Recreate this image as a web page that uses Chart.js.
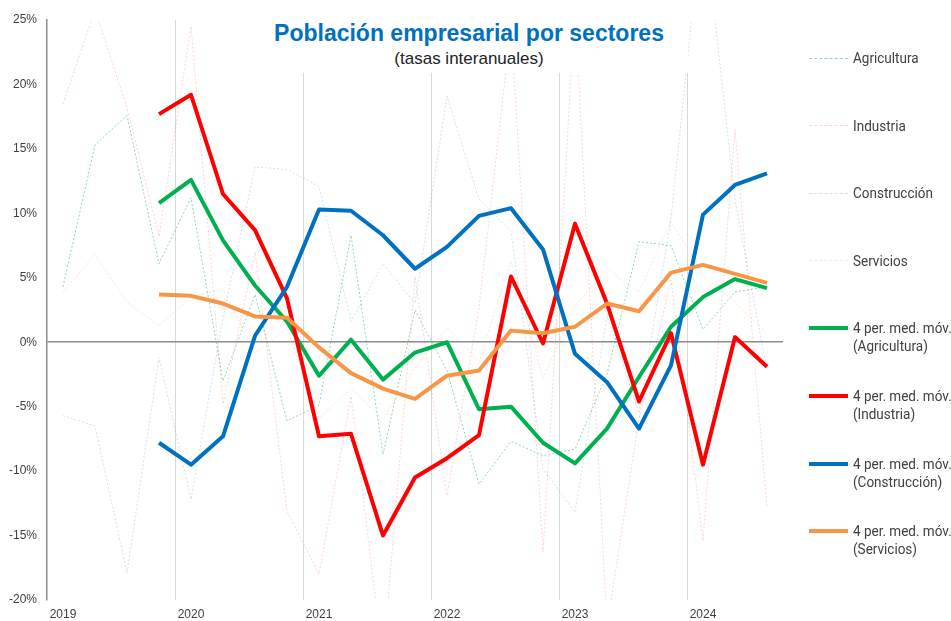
<!DOCTYPE html>
<html lang="es">
<head>
<meta charset="utf-8">
<title>Población empresarial por sectores</title>
<script src="https://cdn.jsdelivr.net/npm/chart.js@4.4.1/dist/chart.umd.min.js"></script>
<style>
  html, body { margin: 0; padding: 0; background: #fff; }
  #wrap { position: relative; width: 951px; height: 621px; overflow: hidden; }
  #titleBox {
    position: absolute; left: 250px; top: 18px; width: 438px; height: 55px;
    background: #fff; text-align: center; font-family: "Liberation Sans", Arial, sans-serif;
  }
  #titleBox .main { color: #0070c0; font-weight: bold; font-size: 23px; line-height: 28px; margin-top: 1px; }
  #titleBox .sub { color: #222; font-size: 17px; line-height: 20px; margin-top: 2px; }
  #legend { position: absolute; left: 0; top: 0; width: 951px; height: 621px; pointer-events: none;
    font-family: "Roboto", sans-serif; font-size: 15px; color: #404040; }
  .item { position: absolute; left: 809px; }
  .item .swatch { position: absolute; left: 0; width: 39px; }
  .item .txt { position: absolute; left: 44px; top: -9px; line-height: 18px; white-space: nowrap;
    transform: scaleX(0.9); transform-origin: left center; }
</style>
</head>
<body>
<div id="wrap">
  <canvas id="chart" width="951" height="621"></canvas>
  <div id="titleBox">
    <div class="main">Población empresarial por sectores</div>
    <div class="sub">(tasas interanuales)</div>
  </div>
  <div id="legend"></div>
</div>
<script>
// trimestres 2019 T1 - 2024 T3
const quarters = [
  '2019T1', '2019T2', '2019T3', '2019T4',
  '2020T1', '2020T2', '2020T3', '2020T4',
  '2021T1', '2021T2', '2021T3', '2021T4',
  '2022T1', '2022T2', '2022T3', '2022T4',
  '2023T1', '2023T2', '2023T3', '2023T4',
  '2024T1', '2024T2', '2024T3'
];

// tasas interanuales (%)
const agricultura = [4.3, 15.3, 17.6, 6.1, 11.2, -3.0, 3.7, -6.1, -4.9, 8.3, -8.7, 2.5, -2.2, -11.0, -7.7, -8.8, -8.3, -2.5, 7.8, 7.5, 1.0, 3.9, 4.3];
const industria = [18.5, 25.8, 18.2, 8.2, 24.5, -4.8, 7.0, -13.1, -18.0, -4.2, -24.7, 5.1, -11.9, 2.7, 24.5, -16.3, 25.9, -22.1, -5.9, 4.8, -15.4, 16.5, -12.8];
const construccion = [-5.7, -6.5, -17.9, -1.2, -12.2, 1.9, 13.6, 13.4, 12.1, 1.6, 6.1, 3.0, 19.1, 11.1, 8.6, -9.8, -13.2, 2.0, -5.5, 9.6, 33.5, 11.0, -2.2];
const servicios = [3.9, 6.8, 3.1, 1.3, 3.5, 4.1, -0.9, 1.1, -5.9, -3.6, -6.0, -2.0, 1.1, -1.5, 6.3, -2.8, 2.8, 5.7, 3.9, 9.4, 5.2, 3.1, 0.7];

// medias móviles de 4 periodos
const agriculturaMM = [null, null, null, 10.8, 12.6, 7.9, 4.4, 1.6, -2.6, 0.2, -2.9, -0.8, 0.0, -5.2, -5.0, -7.8, -9.4, -6.7, -2.7, 1.2, 3.5, 4.9, 4.2];
const industriaMM = [null, null, null, 17.7, 19.2, 11.5, 8.7, 3.4, -7.3, -7.1, -15.0, -10.5, -9.0, -7.2, 5.1, -0.1, 9.2, 3.0, -4.6, 0.7, -9.5, 0.4, -1.9];
const construccionMM = [null, null, null, -7.8, -9.5, -7.3, 0.5, 4.3, 10.3, 10.2, 8.3, 5.7, 7.4, 9.8, 10.4, 7.2, -0.9, -3.1, -6.7, -1.8, 9.9, 12.2, 13.1];
const serviciosMM = [null, null, null, 3.7, 3.6, 3.0, 2.0, 1.9, -0.4, -2.4, -3.6, -4.4, -2.6, -2.2, 0.9, 0.7, 1.2, 3.0, 2.4, 5.4, 6.0, 5.3, 4.6];

const yTicks = [-20, -15, -10, -5, 0, 5, 10, 15, 20, 25];

const palette = {
  agri: '#00b050',
  indu: '#ff0000',
  cons: '#0070c0',
  serv: '#f79646',
  agriLight: 'rgba(0,176,80,0.45)',
  induLight: 'rgba(255,0,0,0.18)',
  consLight: 'rgba(0,112,192,0.2)',
  servLight: 'rgba(247,150,70,0.25)',
  axis: '#8c8c8c',
  grid: '#d9d9d9'
};

const raw = (label, data, color, order) => ({
  label, data, borderColor: color, backgroundColor: color,
  borderWidth: 1, borderDash: [2, 2], pointRadius: 0, tension: 0, order, dotted: true
});
const mm = (label, data, color, order) => ({
  label, data, borderColor: color, backgroundColor: color,
  borderWidth: 4, pointRadius: 0, tension: 0, order, borderJoinStyle: 'round'
});

const datasets = [
  raw('Agricultura', agricultura, palette.agriLight, 7),
  raw('Industria', industria, palette.induLight, 6),
  raw('Construcción', construccion, palette.consLight, 5),
  raw('Servicios', servicios, palette.servLight, 4),
  mm('4 per. med. móv.\n(Agricultura)', agriculturaMM, palette.agri, 3),
  mm('4 per. med. móv.\n(Industria)', industriaMM, palette.indu, 2),
  mm('4 per. med. móv.\n(Construcción)', construccionMM, palette.cons, 1),
  mm('4 per. med. móv.\n(Servicios)', serviciosMM, palette.serv, 0)
];

const chart = new Chart(document.getElementById('chart'), {
  type: 'line',
  data: { labels: quarters, datasets },
  options: {
    responsive: false,
    animation: false,
    layout: { padding: { top: 20, right: 168, left: 0, bottom: 0 } },
    plugins: { legend: { display: false }, title: { display: false }, tooltip: { enabled: false } },
    scales: {
      x: {
        offset: true,
        afterFit: (s) => { s.height = 21; },
        border: { display: false },
        grid: {
          offset: true,
          drawTicks: false,
          color: (ctx) => (ctx.index > 0 && ctx.index % 4 === 0 ? palette.grid : 'rgba(0,0,0,0)'),
          lineWidth: 1
        },
        ticks: {
          autoSkip: false, maxRotation: 0, padding: 7,
          color: '#404040',
          font: { family: 'Liberation Sans', size: 12 },
          callback: function (v, i) { return i % 4 === 0 ? quarters[i].slice(0, 4) : ''; }
        }
      },
      y: {
        min: -20, max: 25,
        afterFit: (s) => { s.width = 47; },
        afterBuildTicks: (s) => { s.ticks = yTicks.map((v) => ({ value: v })); },
        border: { display: true, color: palette.axis, width: 1.5 },
        grid: {
          drawTicks: false,
          color: (ctx) => (ctx.tick && ctx.tick.value === 0 ? palette.axis : 'rgba(0,0,0,0)'),
          lineWidth: 1.5
        },
        ticks: {
          padding: 10,
          color: '#404040',
          font: { family: 'Liberation Sans', size: 12 },
          callback: (v) => v + '%'
        }
      }
    }
  }
});

// leyenda a la derecha
const legendEl = document.getElementById('legend');
chart.data.datasets.forEach((ds, i) => {
  const item = document.createElement('div');
  item.className = 'item';
  item.style.top = (58 + i * 67.6) + 'px';
  const sw = document.createElement('div');
  sw.className = 'swatch';
  const w = ds.dotted ? 1 : 4;
  sw.style.top = (-w / 2) + 'px';
  sw.style.borderTop = w + 'px ' + (ds.dotted ? 'dashed ' : 'solid ') + ds.borderColor;
  const txt = document.createElement('div');
  txt.className = 'txt';
  txt.innerHTML = ds.label.split('\n').join('<br>');
  item.appendChild(sw);
  item.appendChild(txt);
  legendEl.appendChild(item);
});
</script>
</body>
</html>
